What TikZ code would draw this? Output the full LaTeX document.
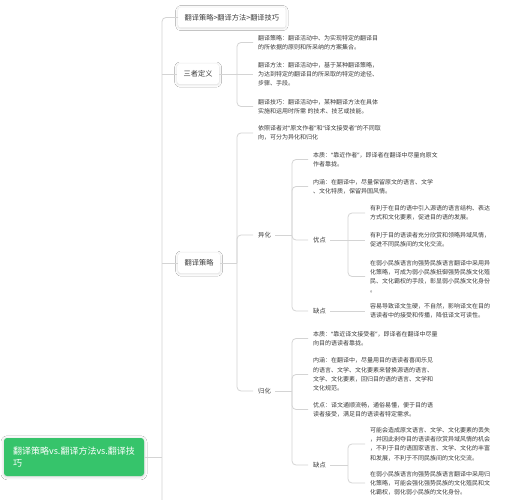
\documentclass[tikz,border=0pt]{standalone}
\usepackage{fontspec}
\setmainfont{Noto Sans CJK SC}
\newfontfamily\latq{Noto Sans}
\newcommand{\oq}{{\latq “}}
\newcommand{\cq}{{\latq ”}}
\usetikzlibrary{shadows.blur}
\definecolor{ln}{HTML}{D4D4D4}
\definecolor{tx}{HTML}{3C3C3C}
\definecolor{gr}{HTML}{36C46B}
\begin{document}
\begin{tikzpicture}[x=1pt,y=-1pt,
  conn/.style={draw=ln, line width=0.8pt},
  curve/.style={draw=ln, line width=0.8pt, rounded corners=4pt},
  para/.style={anchor=west, inner sep=0pt, align=left, font=\fontsize{6}{9.2}\selectfont, text=tx},
  lbl/.style={anchor=west, inner sep=0pt, font=\fontsize{6.3}{8}\selectfont, text=tx},
  topic/.style={anchor=west, fill=white, rounded corners=2.5pt, inner xsep=6.5pt, inner ysep=0pt,
    minimum height=20pt, font=\fontsize{7.2}{9}\selectfont, text=tx,
    blur shadow={shadow xshift=0pt, shadow yshift=-0.6pt, shadow blur radius=2.5pt, shadow opacity=16}},
  rootbox/.style={fill=gr, text=white, rounded corners=3pt, minimum width=140pt, minimum height=38pt,
    align=left, inner sep=0pt, font=\fontsize{9}{11.5}\selectfont,
    blur shadow={shadow xshift=0pt, shadow yshift=-0.8pt, shadow blur radius=3pt, shadow opacity=20}}
]
\useasboundingbox (0,0) rectangle (514,500);
\fill[white] (0,0) rectangle (514,500);

% main topics
\node[rootbox] (root) at (74,457) {翻译策略vs.翻译方法vs.翻译技\\巧};
\node[topic] (top) at (178,17.5) {翻译策略>翻译方法>翻译技巧};
\node[topic] (def) at (177,74) {三者定义};
\node[topic] (strat) at (178,263) {翻译策略};

\coordinate (tb) at (162,500);
\draw[curve] (tb) |- (top.west);
\draw[conn] (def.west) -- (def.west -| tb);
\draw[conn] (strat.west) -- (strat.west -| tb);
\draw[conn] (root.east) -- (root.east -| tb);

% definitions
\node[para] (d1) at (258,42.5) {翻译策略：翻译活动中、为实现特定的翻译目\\的所依据的原则和所采纳的方案集合。};
\node[para] (d2) at (258,74) {翻译方法：翻译活动中，基于某种翻译策略，\\为达到特定的翻译目的所采取的特定的途径、\\步骤、手段。};
\node[para] (d3) at (258,106.5) {翻译技巧：翻译活动中，某种翻译方法在具体\\实施和运用时所需 的技术、技艺或技能。};
\coordinate (b1) at (237,74);
\draw[conn] (def.east) -- ([xshift=-5pt]d2.west);
\draw[curve] (b1) |- ([xshift=-5pt]d1.west);
\draw[curve] (b1) |- ([xshift=-5pt]d3.west);

% strategy
\node[para] (s0) at (258,133) {依照译者对\oq 原文作者\cq 和\oq 译文接受者\cq 的不同取\\向，可分为异化和归化};
\node[lbl] (yh) at (258,235) {异化};
\node[lbl] (gh) at (258,391) {归化};
\coordinate (b2) at (237,263);
\draw[conn] (strat.east) -- (b2);
\foreach \c in {s0,yh,gh} \draw[curve] (b2) |- ([xshift=-5pt]\c.west);

% yihua
\node[para] (y1) at (313,159.5) {本质：\oq 靠近作者\cq ，即译者在翻译中尽量向原文\\作者靠拢。};
\node[para] (y2) at (313,186.5) {内涵：在翻译中，尽量保留原文的语言、文学\\、文化特质，保留异国风情。};
\node[lbl] (yy) at (313,240) {优点};
\node[lbl] (yq) at (313,311) {缺点};
\coordinate (b3) at (292,235);
\draw[conn] ([xshift=4pt]yh.east) -- (b3);
\foreach \c in {y1,y2,yy,yq} \draw[curve] (b3) |- ([xshift=-5pt]\c.west);

\node[para] (yy1) at (370,213) {有利于在目的语中引入源语的语言结构、表达\\方式和文化要素，促进目的语的发展。};
\node[para] (yy2) at (370,240) {有利于目的语读者充分欣赏和领略异域风情，\\促进不同民族间的文化交流。};
\node[para] (yy3) at (370,276.5) {在弱小民族语言向强势民族语言翻译中采用异\\化策略，可成为弱小民族抵御强势民族文化殖\\民、文化霸权的手段，彰显弱小民族文化身份\\。};
\coordinate (b4) at (348,240);
\draw[conn] ([xshift=4pt]yy.east) -- ([xshift=-5pt]yy2.west);
\draw[curve] (b4) |- ([xshift=-5pt]yy1.west);
\draw[curve] (b4) |- ([xshift=-5pt]yy3.west);

\node[para] (yq1) at (370,311) {容易导致译文生硬，不自然，影响译文在目的\\语读者中的接受和传播，降低译文可读性。};
\draw[conn] ([xshift=4pt]yq.east) -- ([xshift=-5pt]yq1.west);

% guihua
\node[para] (g1) at (313,338.5) {本质：\oq 靠近译文接受者\cq ，即译者在翻译中尽量\\向目的语读者靠拢。};
\node[para] (g2) at (313,374.5) {内涵：在翻译中，尽量用目的语读者喜闻乐见\\的语言、文学、文化要素来替换源语的语言、\\文学、文化要素，回归目的语的语言、文学和\\文化规范。};
\node[para] (g3) at (313,409.5) {优点：译文通顺流畅，通俗易懂，便于目的语\\读者接受，满足目的语读者特定需求。};
\node[lbl] (gq) at (313,465) {缺点};
\coordinate (b5) at (292,391);
\draw[conn] ([xshift=4pt]gh.east) -- (b5);
\foreach \c in {g1,g2,g3,gq} \draw[curve] (b5) |- ([xshift=-5pt]\c.west);

\node[para] (gq1) at (370,444) {可能会造成原文语言、文学、文化要素的丢失\\，并因此剥夺目的语读者欣赏异域风情的机会\\，不利于目的语国家语言、文学、文化的丰富\\和发展，不利于不同民族间的文化交流。};
\node[para] (gq2) at (370,483) {在弱小民族语言向强势民族语言翻译中采用归\\化策略，可能会强化强势民族的文化殖民和文\\化霸权，弱化弱小民族的文化身份。};
\coordinate (b6) at (348,465);
\draw[conn] ([xshift=4pt]gq.east) -- (b6);
\foreach \c in {gq1,gq2} \draw[curve] (b6) |- ([xshift=-5pt]\c.west);
\end{tikzpicture}
\end{document}
